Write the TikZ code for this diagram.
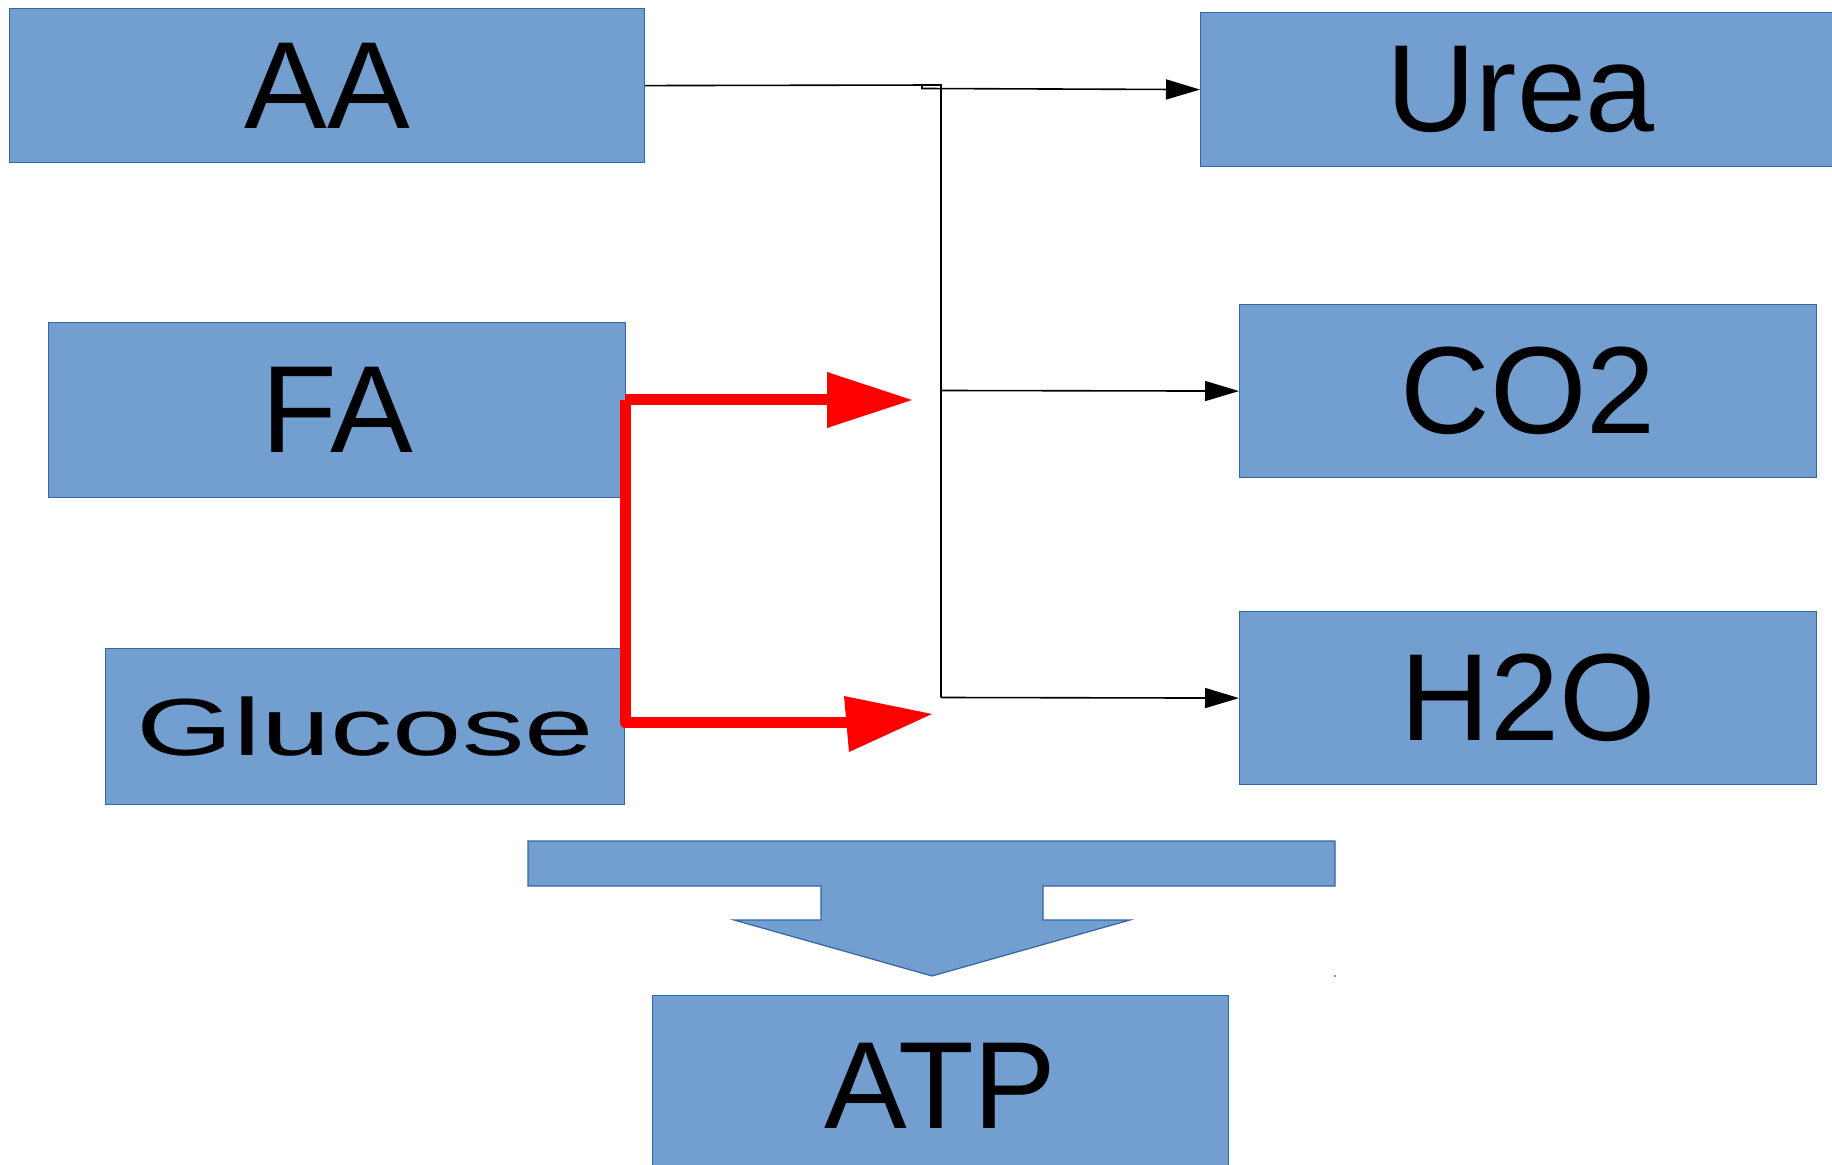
\documentclass[tikz,border=0pt]{standalone}
\usepackage{fontspec}
\setmainfont{Liberation Sans}
\usetikzlibrary{arrows.meta}
\definecolor{boxfill}{HTML}{729FCF}
\definecolor{boxline}{HTML}{3465A4}
\begin{document}
\begin{tikzpicture}[x=0.5pt,y=-0.5pt,
  box/.style={draw=boxline, line width=0.6pt, fill=boxfill, rectangle, anchor=north west,
    inner sep=0pt, font=\fontsize{62}{62}\selectfont},
  conn/.style={draw=black, line width=0.8pt},
  blacktip/.style={-{Triangle[length=17pt,width=10pt]}},
  redline/.style={draw=red, line width=5.5pt},
  redhead/.style={fill=red}]
\useasboundingbox (0,0) rectangle (1832,1165);

% boxes
\node[box, minimum width=317.5pt, minimum height=77pt] (aa) at (9,8) {AA};
\node[box, minimum width=320pt, minimum height=77pt] (urea) at (1200,12) {Urea};
\node[box, minimum width=288.5pt, minimum height=87.5pt] (fa) at (48,322) {FA};
\node[box, minimum width=288.5pt, minimum height=86.5pt] (co2) at (1239,304) {CO2};
\node[box, minimum width=259.5pt, minimum height=78pt, font=\fontsize{40.5}{40.5}\selectfont] (glc) at (105,648) {\scalebox{1.54}[1]{Glucose}};
\node[box, minimum width=288.5pt, minimum height=86.5pt] (h2o) at (1239,611) {H2O};
\node[box, minimum width=288pt, minimum height=90pt] (atp) at (652,995) {ATP};

% wide arrow
\filldraw[fill=boxfill, draw=boxline, line width=0.6pt]
  (528,841) -- (1335,841) -- (1335,886) -- (1043,886) -- (1043,920) -- (1130,920)
  -- (932,976) -- (734,920) -- (821,920) -- (821,886) -- (528,886) -- cycle;
\fill[boxfill] (1334,975) rectangle (1336,977);

% black connectors
\coordinate (jt) at (941,85);
\coordinate (jm) at (941,390.5);
\coordinate (jb) at (941,697.5);
\coordinate (js) at (922,85);
\draw[conn] (aa.east) -- (jt) -- (jb);
\draw[conn, blacktip] (js) -- (922,88.5) -- (urea.west);
\draw[conn, blacktip] (jm) -- (co2.west);
\draw[conn, blacktip] (jb) -- (h2o.west);

% red connectors
\coordinate (rt) at (625,400);
\coordinate (rb) at (625,723);
\coordinate (rte) at (828,400);
\coordinate (rbe) at (847,723);
\draw[redline] (rt) -- (rte);
\draw[redline, line join=round] (rt) -- (rb) -- (rbe);
\fill[redhead] (827,372) -- (912,400) -- (827,428) -- cycle;
\fill[redhead] (844,696) -- (932,714) -- (849,752) -- cycle;
\end{tikzpicture}
\end{document}
